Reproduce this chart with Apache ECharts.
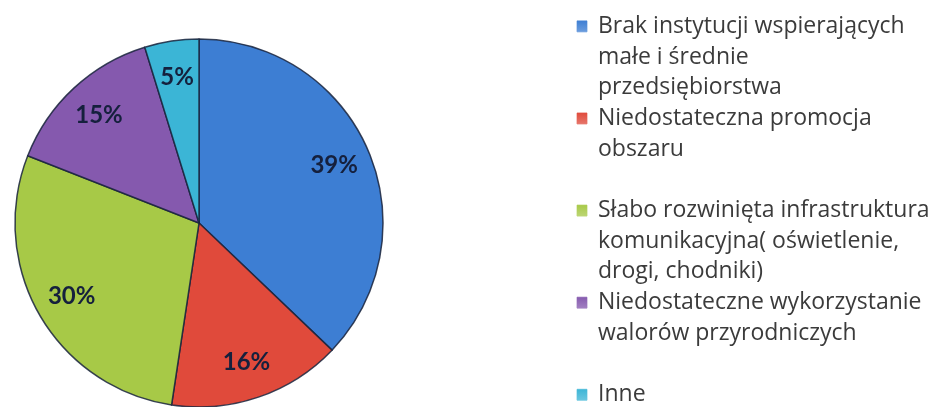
<!DOCTYPE html>
<html>
<head>
<meta charset="utf-8">
<script src="https://cdn.jsdelivr.net/npm/echarts@6/dist/echarts.min.js"></script>
<style>
html,body{margin:0;padding:0;background:#fff;}
#chart{width:939px;height:407px;}
</style>
</head>
<body>
<div id="chart"></div>
<script>
const categories = [
  'Brak instytucji wspierających małe i średnie przedsiębiorstwa',
  'Niedostateczna promocja obszaru',
  'Słabo rozwinięta infrastruktura komunikacyjna( oświetlenie, drogi, chodniki)',
  'Niedostateczne wykorzystanie walorów przyrodniczych',
  'Inne'
];
const legendLines = [
  ['Brak instytucji wspierających', 'małe i średnie', 'przedsiębiorstwa'],
  ['Niedostateczna promocja', 'obszaru', ''],
  ['Słabo rozwinięta infrastruktura', 'komunikacyjna( oświetlenie,', 'drogi, chodniki)'],
  ['Niedostateczne wykorzystanie', 'walorów przyrodniczych', ''],
  ['Inne']
];
const values = [39, 16, 30, 15, 5];
const colors = ['#3d7ed3', '#e04a3b', '#a7c947', '#8559ae', '#3bb5d6'];

const chart = echarts.init(document.getElementById('chart'));
const pieData = categories.map((n, i) => ({ name: n, value: values[i] }));

const LH = 30.7;
const FONT = 'Open Sans';
const FS = 23;
const rich = {
  t: { fontFamily: FONT, fontSize: FS, color: '#3b3b3b', lineHeight: LH },
  i: { fontFamily: FONT, fontSize: FS, color: '#3b3b3b', lineHeight: LH, padding: [0, 0, 0, 21] },
  g: { width: 11, lineHeight: LH }
};
colors.forEach((c, i) => {
  rich['s' + i] = {
    width: 10, height: 11, lineHeight: LH,
    backgroundColor: {
      type: 'linear', x: 0, y: 0, x2: 0, y2: 1,
      colorStops: [{ offset: 0, color: c }, { offset: 1, color: echarts.color.lift(c, 0.25) }]
    },
    borderColor: echarts.color.lift(c, 0.4), borderWidth: 0.5
  };
});

chart.setOption({
  backgroundColor: '#ffffff',
  animation: false,
  color: colors,
  legend: {
    orient: 'vertical',
    left: 570,
    top: 11,
    height: 460,
    itemGap: 0,
    itemWidth: 1,
    itemHeight: 1,
    itemStyle: { opacity: 0 },
    padding: 0,
    data: categories,
    textStyle: { lineHeight: LH, fontFamily: FONT, fontSize: FS, color: '#3b3b3b', rich: rich },
    formatter: function (name) {
      const i = categories.indexOf(name);
      const L = legendLines[i];
      let s = '{s' + i + '|}{g|}{t|' + L[0] + '}';
      if (L.length > 1) s += '\n' + L.slice(1).map(l => '{i|' + (l || ' ') + '}').join('\n');
      return s;
    }
  },
  series: [
    {
      type: 'pie',
      center: [199, 223],
      radius: [0, 184],
      startAngle: 90,
      clockwise: true,
      label: { show: false },
      labelLine: { show: false },
      itemStyle: { borderColor: 'rgba(25,35,60,0.85)', borderWidth: 1.5 },
      data: pieData
    },
    {
      type: 'pie',
      center: [199, 223],
      radius: [104, 184],
      startAngle: 90,
      clockwise: true,
      silent: true,
      itemStyle: { color: 'rgba(0,0,0,0)', borderWidth: 0 },
      label: {
        show: true,
        position: 'inside',
        formatter: '{c}%',
        fontFamily: 'Lato',
        fontWeight: 'bold',
        fontSize: 24,
        color: '#15203d'
      },
      labelLine: { show: false },
      data: pieData
    }
  ]
});
</script>
</body>
</html>
